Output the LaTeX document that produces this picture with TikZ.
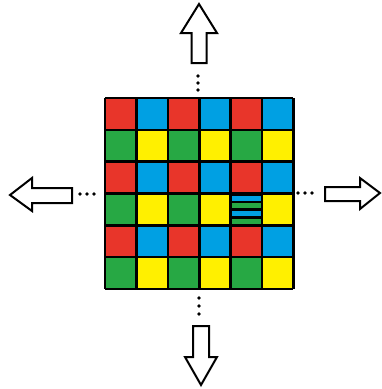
\documentclass[tikz,border=0pt]{standalone}
\begin{document}
\begin{tikzpicture}[x=1pt,y=-1pt,
  cellline/.style={draw=black,line width=2.6pt},
  bigarrow/.style={draw=black,fill=white,line width=2pt,line join=miter},
  dotmark/.style={fill=black,draw=none}]
\definecolor{cR}{HTML}{E8352A}
\definecolor{cB}{HTML}{00A0E3}
\definecolor{cG}{HTML}{27A844}
\definecolor{cY}{HTML}{FFF000}
\useasboundingbox (0,0) rectangle (382,389);
\def\cw{31.4}
\def\ch{31.8}
% cells
\foreach \r in {0,...,5}{
  \foreach \c in {0,...,5}{
    \pgfmathtruncatemacro{\rp}{mod(\r,2)}
    \pgfmathtruncatemacro{\cp}{mod(\c,2)}
    \ifnum\rp=0
      \ifnum\cp=0 \def\col{cR}\else\def\col{cB}\fi
    \else
      \ifnum\cp=0 \def\col{cG}\else\def\col{cY}\fi
    \fi
    \fill[\col] ({105+\c*\cw},{98+\r*\ch}) rectangle ++(\cw,\ch);
  }
}
% striped cell (row 3, col 4)
\fill[black] ({105+4*\cw},{98+3*\ch}) rectangle ++(\cw,\ch);
\fill[cB] ({105+4*\cw},195.5) rectangle ({105+5*\cw},200.8);
\fill[cG] ({105+4*\cw},203.3) rectangle ({105+5*\cw},208.3);
\fill[cB] ({105+4*\cw},210.8) rectangle ({105+5*\cw},216.0);
\fill[cG] ({105+4*\cw},218.6) rectangle ({105+5*\cw},225.0);
% grid lines
\foreach \i in {0,...,6}{
  \draw[cellline] ({105+\i*\cw},98) -- ({105+\i*\cw},{98+6*\ch});
  \draw[cellline] (105,{98+\i*\ch}) -- ({105+6*\cw},{98+\i*\ch});
}
% arrows
\draw[bigarrow] (199,4) -- (217,33) -- (206.5,33) -- (206.5,63) -- (191.5,63) -- (191.5,33) -- (181,33) -- cycle;
\draw[bigarrow] (201,385) -- (217,357) -- (209,357) -- (209,326) -- (193,326) -- (193,357) -- (185,357) -- cycle;
\draw[bigarrow] (10,195) -- (32,178) -- (32,188) -- (72,188) -- (72,203) -- (32,203) -- (32,211) -- cycle;
\draw[bigarrow] (380,193) -- (360,178) -- (360,187) -- (325,187) -- (325,201) -- (360,201) -- (360,209) -- cycle;
% dots
\foreach \y in {76,83,90} \fill[dotmark] (198,\y) circle (1.8);
\foreach \y in {298,306,314} \fill[dotmark] (199,\y) circle (1.8);
\foreach \x in {80,87,94} \fill[dotmark] (\x,194) circle (1.8);
\foreach \x in {298,305,312} \fill[dotmark] (\x,193) circle (1.8);
\end{tikzpicture}
\end{document}
